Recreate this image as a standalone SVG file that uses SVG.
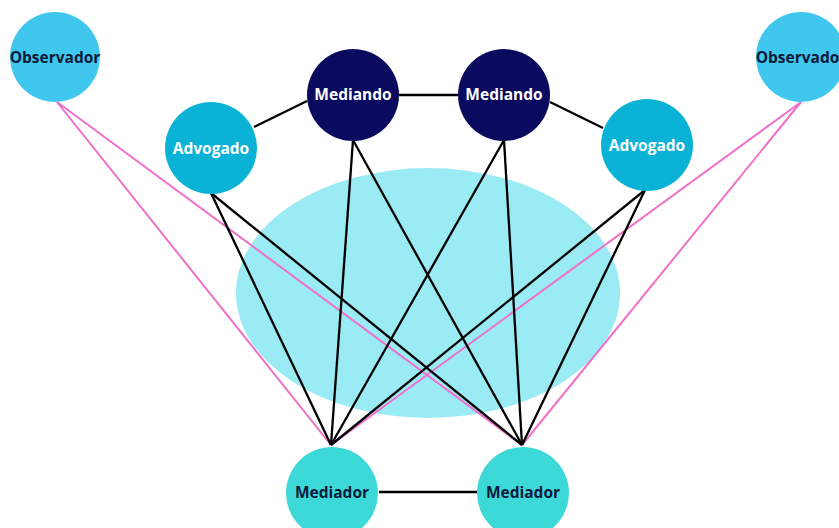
<svg xmlns="http://www.w3.org/2000/svg" width="839" height="528" viewBox="0 0 839 528">
<style>
.k{stroke:#000;stroke-width:2.3;fill:none}
.p{stroke:#f06fc9;stroke-width:2;fill:none}
text{font-family:"Open Sans","Liberation Sans",sans-serif;font-weight:bold;font-size:15.5px;text-anchor:middle;dominant-baseline:central}
.obs{fill:#3fc7ee}.adv{fill:#0ab3d6}.med{fill:#0a0a5e}.mdr{fill:#3dd9d8}
.dk{fill:#0b1a3a}.wt{fill:#fff}
</style>
<rect width="839" height="528" fill="#fff"/>
<ellipse cx="428" cy="293" rx="192" ry="125" fill="#9aebf3"/>
<g id="connectors">
<line class="k" x1="254" y1="127" x2="307" y2="101"/>
<line class="k" x1="399" y1="95" x2="458" y2="95"/>
<line class="k" x1="550" y1="102" x2="603" y2="128"/>
<line class="k" x1="379" y1="492" x2="477" y2="492"/>
<line class="p" x1="57" y1="102" x2="331" y2="445"/>
<line class="p" x1="57" y1="102" x2="522" y2="445"/>
<line class="p" x1="801" y1="102" x2="331" y2="445"/>
<line class="p" x1="801" y1="102" x2="522" y2="445"/>
<line class="k" x1="211" y1="193" x2="331" y2="445"/>
<line class="k" x1="211" y1="193" x2="522" y2="445"/>
<line class="k" x1="353" y1="140" x2="331" y2="445"/>
<line class="k" x1="353" y1="140" x2="522" y2="445"/>
<line class="k" x1="504" y1="140" x2="331" y2="445"/>
<line class="k" x1="504" y1="140" x2="522" y2="445"/>
<line class="k" x1="645" y1="190" x2="331" y2="445"/>
<line class="k" x1="645" y1="190" x2="522" y2="445"/>
</g>
<g id="obs1"><circle class="obs" cx="55" cy="57" r="45"/><text class="dk" x="55" y="57" font-size="13.3">Observador</text></g>
<g id="obs2"><circle class="obs" cx="801" cy="57" r="45"/><text class="dk" x="801" y="57" font-size="13.3">Observador</text></g>
<g id="adv1"><circle class="adv" cx="211" cy="148" r="46"/><text class="wt" x="211" y="148">Advogado</text></g>
<g id="adv2"><circle class="adv" cx="647" cy="145" r="46"/><text class="wt" x="647" y="145">Advogado</text></g>
<g id="med1"><circle class="med" cx="353" cy="95" r="46"/><text class="wt" x="353" y="94">Mediando</text></g>
<g id="med2"><circle class="med" cx="504" cy="95" r="46"/><text class="wt" x="504" y="94">Mediando</text></g>
<g id="mdr1"><circle class="mdr" cx="332" cy="493" r="46"/><text class="dk" x="332" y="492">Mediador</text></g>
<g id="mdr2"><circle class="mdr" cx="523" cy="493" r="46"/><text class="dk" x="523" y="492">Mediador</text></g>
</svg>
